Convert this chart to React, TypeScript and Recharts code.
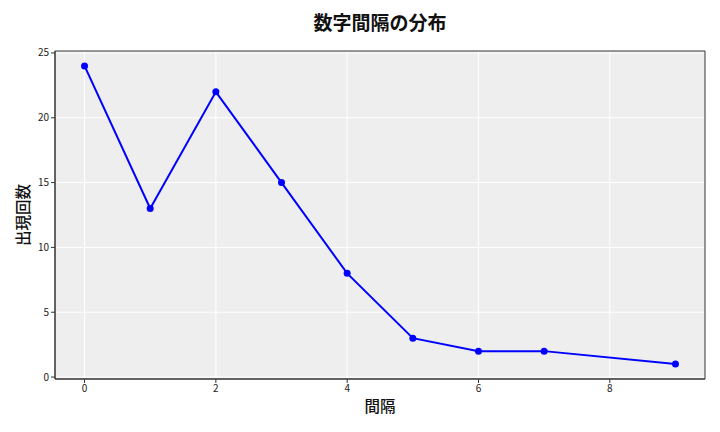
import { ComposedChart, Line, XAxis, YAxis, CartesianGrid, ReferenceArea, Label } from 'recharts'

const gaps = [0, 1, 2, 3, 4, 5, 6, 7, 9]
const counts = [24, 13, 22, 15, 8, 3, 2, 2, 1]
const xTicks = [0, 2, 4, 6, 8]
const yTicks = [0, 5, 10, 15, 20, 25]

const data = gaps.map((g, i) => ({ gap: g, count: counts[i] }))

const font = '"Noto Sans CJK JP", "Noto Sans", sans-serif'
const X_DOMAIN: [number, number] = [-0.45, 9.45]
const Y_DOMAIN: [number, number] = [-0.15, 25.15]

export default function App() {
  return (
    <div style={{ position: 'absolute', left: 0, top: 0, width: 720, height: 432, background: '#fff', fontFamily: font }}>
      <div
        style={{
          position: 'absolute',
          left: 55,
          width: 650,
          top: 7,
          textAlign: 'center',
          fontSize: 19,
          fontWeight: 'bold',
          color: '#111',
          lineHeight: '30px',
        }}
      >
        数字間隔の分布
      </div>
      <ComposedChart width={720} height={432} data={data} margin={{ top: 51, right: 15, bottom: 0, left: 0 }}>
        <CartesianGrid stroke="#ffffff" strokeWidth={1} fill="#eeeeee" horizontalValues={yTicks} verticalValues={xTicks} />
        <XAxis
          dataKey="gap"
          type="number"
          domain={X_DOMAIN}
          ticks={xTicks}
          allowDataOverflow
          height={53}
          tickSize={4}
          tickLine={{ stroke: '#333' }}
          axisLine={{ stroke: '#333' }}
          tick={{ fill: '#222', fontSize: 10, fontFamily: font }}
        >
          <Label value="間隔" position="insideTop" offset={22} style={{ fontSize: 15.5, fill: '#111', fontFamily: font, fontWeight: 500 }} />
        </XAxis>
        <YAxis
          type="number"
          domain={Y_DOMAIN}
          ticks={yTicks}
          allowDataOverflow
          width={55}
          tickSize={4}
          tickLine={{ stroke: '#333' }}
          axisLine={{ stroke: '#333' }}
          tick={{ fill: '#222', fontSize: 10, fontFamily: font }}
        >
          <Label
            value="出現回数"
            angle={-90}
            position="insideLeft"
            offset={23}
            style={{ fontSize: 15.5, fill: '#111', fontFamily: font, fontWeight: 500, textAnchor: 'middle' }}
          />
        </YAxis>
        <ReferenceArea
          x1={X_DOMAIN[0]}
          x2={X_DOMAIN[1]}
          y1={Y_DOMAIN[0]}
          y2={Y_DOMAIN[1]}
          fill="none"
          stroke="#333"
          strokeWidth={1}
          ifOverflow="visible"
        />
        <Line
          dataKey="count"
          stroke="#0000ff"
          strokeWidth={2}
          dot={{ r: 3.5, fill: '#0000ff', stroke: '#0000ff', strokeWidth: 0 }}
          activeDot={false}
          isAnimationActive={false}
        />
      </ComposedChart>
    </div>
  )
}
